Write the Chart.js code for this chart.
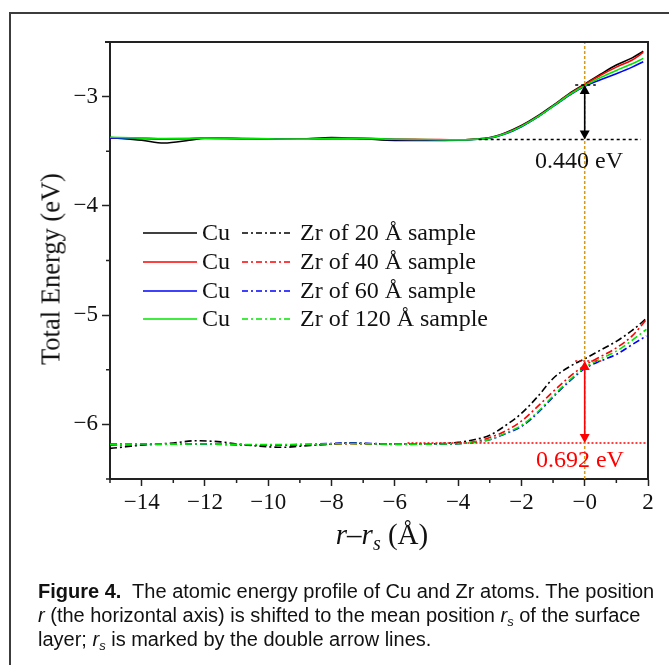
<!DOCTYPE html>
<html>
<head>
<meta charset="utf-8">
<script src="https://cdn.jsdelivr.net/npm/chart.js@4/dist/chart.umd.min.js"></script>
<style>
  html, body { margin: 0; padding: 0; background: #fff; }
  #wrap { position: relative; width: 669px; height: 665px; overflow: hidden; background: #fff; }
  #frame { position: absolute; left: 9px; top: 12px; width: 720px; height: 720px; border: 2px solid #3c3c3c; box-sizing: border-box; }
  #c { position: absolute; left: 0; top: 0; }
  #ytitle { position: absolute; left: 51px; top: 269px; transform: translate(-50%, -50%) rotate(-90deg); white-space: nowrap;
    font-family: "Liberation Serif", "DejaVu Serif", serif; font-size: 26.5px; color: #111; }
  #xtitle { position: absolute; left: 382px; top: 534px; transform: translate(-50%, -50%); white-space: nowrap;
    font-family: "Liberation Serif", "DejaVu Serif", serif; font-size: 29px; color: #111; }
  #xtitle sub { font-size: 20px; vertical-align: -6px; line-height: 0; }
  #caption { position: absolute; left: 38px; top: 579px; width: 640px; white-space: nowrap;
    font-family: "Liberation Sans", Arial, sans-serif; font-size: 20px; line-height: 24px; color: #111; }
  #caption sub { font-size: 13px; vertical-align: -4px; line-height: 0; }
</style>
</head>
<body>
<div id="wrap">
  <div id="frame"></div>
  <canvas id="c" width="669" height="665"></canvas>
  <div id="ytitle">Total Energy (eV)</div>
  <div id="xtitle"><i>r</i>–<i>r<sub>s</sub></i> (Å)</div>
  <div id="caption"><b>Figure 4.</b>&nbsp; The atomic energy profile of Cu and Zr atoms. The position<br><i>r</i> (the horizontal axis) is shifted to the mean position <i>r<sub>s</sub></i> of the surface<br>layer; <i>r<sub>s</sub></i> is marked by the double arrow lines.</div>
</div>
<script>
// ---------------- data ----------------
const seriesLabels = ["20 Å", "40 Å", "60 Å", "120 Å"];
const legendCu = ["Cu", "Cu", "Cu", "Cu"];
const legendZr = ["Zr of 20 Å sample", "Zr of 40 Å sample", "Zr of 60 Å sample", "Zr of 120 Å sample"];

// Cu (upper curves)
const xCu = [-15, -14, -13.3, -12.5, -12, -11, -10, -9, -8, -7, -6, -5, -4, -3.5, -3, -2.5, -2, -1.5, -1, -0.5, 0, 0.5, 1, 1.5, 1.85];
const cu20  = [-3.375, -3.40, -3.425, -3.40, -3.38, -3.383, -3.39, -3.39, -3.375, -3.385, -3.40, -3.40, -3.398, -3.39, -3.375, -3.33, -3.265, -3.18, -3.08, -2.975, -2.885, -2.795, -2.71, -2.645, -2.585];
const cu40  = [-3.378, -3.382, -3.385, -3.383, -3.38, -3.382, -3.385, -3.387, -3.383, -3.38, -3.39, -3.392, -3.395, -3.39, -3.378, -3.335, -3.27, -3.185, -3.085, -2.98, -2.89, -2.805, -2.73, -2.665, -2.595];
const cu60  = [-3.378, -3.383, -3.387, -3.385, -3.382, -3.385, -3.388, -3.39, -3.385, -3.385, -3.392, -3.395, -3.397, -3.392, -3.38, -3.34, -3.275, -3.19, -3.09, -2.99, -2.905, -2.845, -2.79, -2.73, -2.68];
const cu120 = [-3.372, -3.38, -3.384, -3.383, -3.38, -3.384, -3.387, -3.389, -3.384, -3.383, -3.39, -3.393, -3.396, -3.391, -3.379, -3.338, -3.272, -3.188, -3.088, -2.985, -2.90, -2.825, -2.76, -2.70, -2.65];

// Zr (lower curves)
const xZr = [-15, -14.5, -14, -13, -12.3, -11.5, -11, -10, -9.5, -9, -8, -7.4, -7, -6, -5, -4.5, -4, -3.5, -3, -2.5, -2, -1.5, -1, -0.5, 0, 0.5, 1, 1.5, 1.95];
const zr20  = [-6.22, -6.205, -6.19, -6.17, -6.15, -6.16, -6.18, -6.205, -6.21, -6.20, -6.18, -6.17, -6.175, -6.18, -6.18, -6.175, -6.165, -6.14, -6.10, -6.01, -5.90, -5.75, -5.58, -5.475, -5.40, -5.32, -5.24, -5.14, -5.03];
const zr40  = [-6.19, -6.188, -6.185, -6.182, -6.18, -6.183, -6.186, -6.19, -6.19, -6.188, -6.182, -6.178, -6.18, -6.183, -6.182, -6.18, -6.175, -6.16, -6.12, -6.06, -5.97, -5.84, -5.70, -5.57, -5.46, -5.38, -5.30, -5.19, -5.04];
const zr60  = [-6.18, -6.18, -6.18, -6.182, -6.18, -6.182, -6.185, -6.187, -6.187, -6.185, -6.175, -6.17, -6.173, -6.18, -6.182, -6.18, -6.177, -6.165, -6.14, -6.085, -6.02, -5.90, -5.75, -5.61, -5.49, -5.42, -5.36, -5.27, -5.19];
const zr120 = [-6.182, -6.181, -6.18, -6.181, -6.18, -6.181, -6.183, -6.185, -6.185, -6.183, -6.178, -6.175, -6.177, -6.181, -6.181, -6.179, -6.176, -6.163, -6.14, -6.08, -6.01, -5.89, -5.74, -5.60, -5.48, -5.40, -5.33, -5.23, -5.13];

// reference markers (eV) and positions (Å)
const surfaceX = [0];
const cuBase = [-3.393], cuTop = [-2.893], cuBaseRange = [-3.35, 1.78], cuTopRange = [-0.3, 0.35];
const zrBase = [-6.171], zrTop = [-5.42], zrBaseRange = [-5.6, 2.0], zrTopRange = [-0.3, 0.55];
const diffLabels = ["0.440 eV", "0.692 eV"];
const diffLabelPos = [[-0.18, -3.595], [-0.15, -6.33]];

const xTicks = { min: -15, max: 2, step: 1 };
const yTicks = { min: -6.5, max: -2.5, step: 0.5 };

// ---------------- styling ----------------
const colors = ["#000000", "#ff0000", "#0000ff", "#00e600"];
const SERIF = '"Liberation Serif", "DejaVu Serif", serif';
const AX = "#222";

function pts(xs, ys) { return xs.map((x, i) => ({ x: x, y: ys[i] })); }
function hline(y, r) { return [{ x: r[0], y: y }, { x: r[1], y: y }]; }

const cuSets = [cu20, cu40, cu60, cu120];
const zrSets = [zr20, zr40, zr60, zr120];
const datasets = [];

cuSets.forEach((ys, i) => datasets.push({
  label: legendCu[i] + " " + seriesLabels[i], data: pts(xCu, ys), borderColor: colors[i],
  borderWidth: 1.6, pointRadius: 0, showLine: true, cubicInterpolationMode: "monotone", order: 5 - i
}));
zrSets.forEach((ys, i) => datasets.push({
  label: legendZr[i], data: pts(xZr, ys), borderColor: colors[i],
  borderWidth: 1.6, borderDash: [7, 3, 2, 3], pointRadius: 0, showLine: true, cubicInterpolationMode: "monotone", order: 5 - i
}));
// dotted reference lines
datasets.push({ label: "rs", data: [{ x: surfaceX[0], y: yTicks.min }, { x: surfaceX[0], y: yTicks.max }], borderColor: "#d49a1c", borderWidth: 1.5, borderDash: [3, 2], pointRadius: 0, showLine: true, order: 0 });
datasets.push({ label: "cuBase", data: hline(cuBase[0], cuBaseRange), borderColor: "#000", borderWidth: 1.5, borderDash: [3, 3], pointRadius: 0, showLine: true, order: 0 });
datasets.push({ label: "cuTop", data: hline(cuTop[0], cuTopRange), borderColor: "#000", borderWidth: 1.5, borderDash: [3, 3], pointRadius: 0, showLine: true, order: 0 });
datasets.push({ label: "zrBase", data: hline(zrBase[0], zrBaseRange), borderColor: "#ff0000", borderWidth: 1.5, borderDash: [2, 2], pointRadius: 0, showLine: true, order: 0 });
datasets.push({ label: "zrTop", data: hline(zrTop[0], zrTopRange), borderColor: "#ff0000", borderWidth: 1.5, borderDash: [2, 2], pointRadius: 0, showLine: true, order: 0 });

function minusFmt(v) { return v < 0 ? "\u2212" + Math.abs(v) : (v === 0 ? "\u22120" : String(v)); }

const decor = {
  id: "decor",
  afterDraw(chart) {
    const ctx = chart.ctx, a = chart.chartArea, xs = chart.scales.x, ys = chart.scales.y;
    ctx.save();
    // frame top/right
    ctx.strokeStyle = AX; ctx.lineWidth = 2;
    ctx.beginPath();
    ctx.moveTo(a.left - 5, a.top); ctx.lineTo(a.right, a.top); ctx.lineTo(a.right, a.bottom);
    ctx.stroke();
    // minor ticks
    ctx.lineWidth = 1.5;
    ctx.beginPath();
    for (let v = xTicks.min; v <= xTicks.max; v += xTicks.step) {
      if (Math.abs(v % 2) === 1) { const px = xs.getPixelForValue(v); ctx.moveTo(px, a.bottom); ctx.lineTo(px, a.bottom + 4); }
    }
    for (let v = yTicks.min; v <= yTicks.max + 1e-9; v += yTicks.step) {
      if (!Number.isInteger(v)) { const py = ys.getPixelForValue(v); ctx.moveTo(a.left, py); ctx.lineTo(a.left - 4, py); }
    }
    ctx.stroke();
    // double arrows
    function arrow(xv, y0, y1, col) {
      const px = xs.getPixelForValue(xv), p0 = ys.getPixelForValue(y0), p1 = ys.getPixelForValue(y1);
      const h = 9, w = 5;
      ctx.strokeStyle = col; ctx.fillStyle = col; ctx.lineWidth = 1.6; ctx.setLineDash([]);
      ctx.beginPath(); ctx.moveTo(px, p0 - h + 1); ctx.lineTo(px, p1 + h - 1); ctx.stroke();
      ctx.beginPath(); ctx.moveTo(px, p0); ctx.lineTo(px - w, p0 - h); ctx.lineTo(px + w, p0 - h); ctx.closePath(); ctx.fill();
      ctx.beginPath(); ctx.moveTo(px, p1); ctx.lineTo(px - w, p1 + h); ctx.lineTo(px + w, p1 + h); ctx.closePath(); ctx.fill();
    }
    arrow(surfaceX[0], cuBase[0], cuTop[0], "#000");
    arrow(surfaceX[0], zrBase[0], zrTop[0], "#ff0000");
    // difference labels
    ctx.font = "24px " + SERIF; ctx.textAlign = "center"; ctx.textBaseline = "middle";
    ctx.fillStyle = "#111";
    ctx.fillText(diffLabels[0], xs.getPixelForValue(diffLabelPos[0][0]), ys.getPixelForValue(diffLabelPos[0][1]));
    ctx.fillStyle = "#ff0000";
    ctx.fillText(diffLabels[1], xs.getPixelForValue(diffLabelPos[1][0]), ys.getPixelForValue(diffLabelPos[1][1]));
    // legend
    const rowY = [233, 262, 291, 319];
    ctx.textAlign = "left"; ctx.textBaseline = "middle"; ctx.font = "24px " + SERIF;
    for (let i = 0; i < 4; i++) {
      const y = rowY[i];
      ctx.strokeStyle = colors[i]; ctx.lineWidth = 1.6;
      ctx.setLineDash([]);
      ctx.beginPath(); ctx.moveTo(143, y); ctx.lineTo(197, y); ctx.stroke();
      ctx.setLineDash([6, 3, 2, 3]);
      ctx.beginPath(); ctx.moveTo(242, y); ctx.lineTo(293, y); ctx.stroke();
      ctx.setLineDash([]);
      ctx.fillStyle = "#111";
      ctx.fillText(legendCu[i], 202, y + 1);
      ctx.fillText(legendZr[i], 300, y + 1);
    }
    ctx.restore();
  }
};

new Chart(document.getElementById("c"), {
  type: "scatter",
  data: { datasets: datasets },
  options: {
    responsive: false, animation: false, devicePixelRatio: 1,
    layout: { padding: { left: 0, top: 42, right: 21, bottom: 126 } },
    plugins: { legend: { display: false }, tooltip: { enabled: false } },
    elements: { line: { fill: false } },
    scales: {
      x: {
        type: "linear", min: xTicks.min, max: xTicks.max,
        afterFit(s) { s.height = 60; },
        ticks: { stepSize: xTicks.step, autoSkip: false, maxRotation: 0, padding: 3, color: "#111",
          font: { family: SERIF, size: 23 },
          callback: v => (Math.abs(v % 2) === 0 ? minusFmt(v) : "") },
        grid: { display: true, drawOnChartArea: false, drawTicks: true, tickLength: 7, tickWidth: 1.5,
          tickColor: c => (c.tick && Math.abs(c.tick.value % 2) === 0 ? AX : "rgba(0,0,0,0)") },
        border: { display: true, color: AX, width: 2 },
        title: { display: false }
      },
      y: {
        type: "linear", min: yTicks.min, max: yTicks.max,
        afterFit(s) { s.width = 110; },
        ticks: { stepSize: yTicks.step, autoSkip: false, padding: 4, color: "#111",
          font: { family: SERIF, size: 23 },
          callback: v => (Number.isInteger(v) ? minusFmt(v) : "") },
        grid: { display: true, drawOnChartArea: false, drawTicks: true, tickLength: 8, tickWidth: 1.5,
          tickColor: c => (c.tick && Number.isInteger(c.tick.value) ? AX : "rgba(0,0,0,0)") },
        border: { display: true, color: AX, width: 2 },
        title: { display: false }
      }
    }
  },
  plugins: [decor]
});
</script>
</body>
</html>
